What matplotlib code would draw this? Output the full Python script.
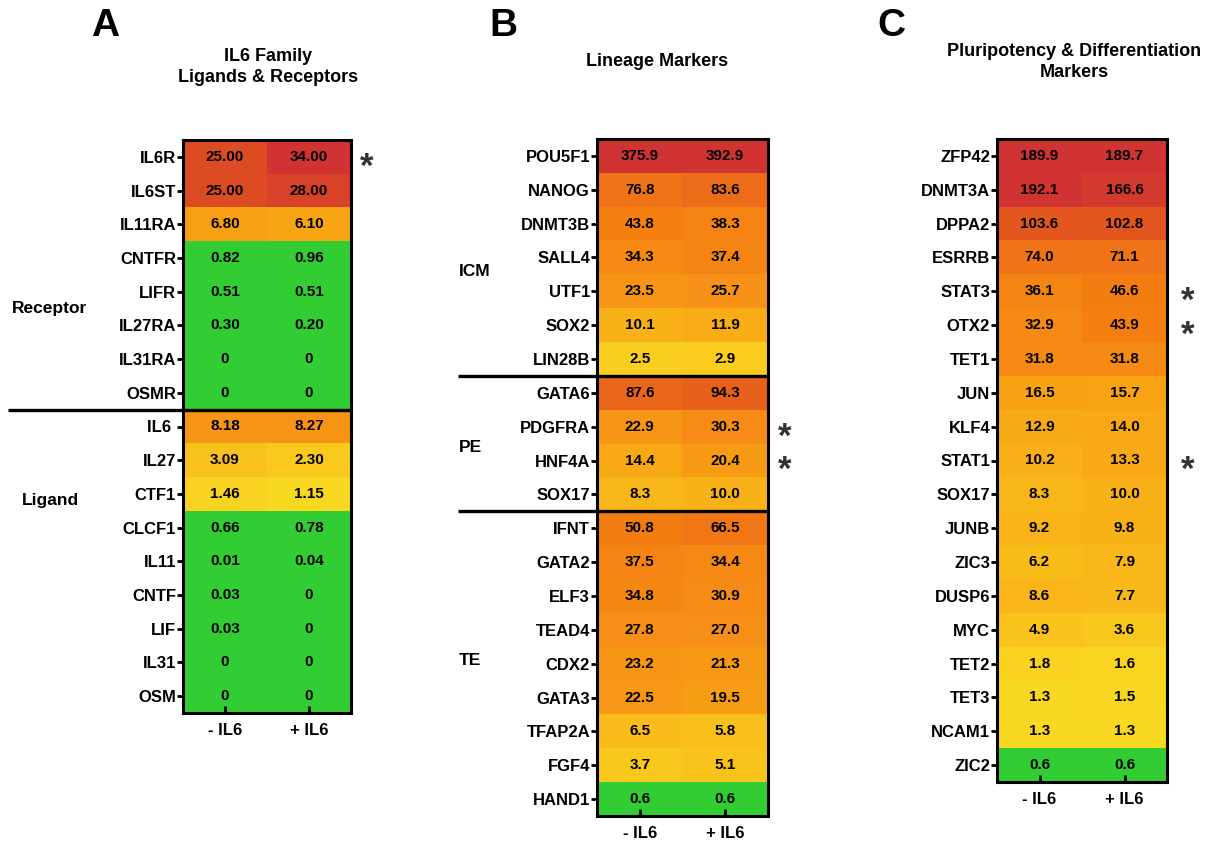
import numpy as np
import matplotlib
matplotlib.use('agg')
import matplotlib.pyplot as plt
from matplotlib.colors import LinearSegmentedColormap, LogNorm, to_rgba
from matplotlib.transforms import blended_transform_factory

plt.rcParams['font.family'] = ['Liberation Sans', 'DejaVu Sans']
plt.rcParams['font.weight'] = 'bold'

conditions = ['- IL6', '+ IL6']

# panel A: IL6 family
genesA = ['IL6R', 'IL6ST', 'IL11RA', 'CNTFR', 'LIFR', 'IL27RA', 'IL31RA', 'OSMR',
          'IL6 ', 'IL27', 'CTF1', 'CLCF1', 'IL11', 'CNTF', 'LIF', 'IL31', 'OSM']
minusA = [25.00, 25.00, 6.80, 0.82, 0.51, 0.30, 0, 0,
          8.18, 3.09, 1.46, 0.66, 0.01, 0.03, 0.03, 0, 0]
plusA = [34.00, 28.00, 6.10, 0.96, 0.51, 0.20, 0, 0,
         8.27, 2.30, 1.15, 0.78, 0.04, 0, 0, 0, 0]
groupsA = [('Receptor', 4.5), ('Ligand', 10.2)]
splitsA = [7.5]
starsA = ['IL6R']

# panel B: lineage markers
genesB = ['POU5F1', 'NANOG', 'DNMT3B', 'SALL4', 'UTF1', 'SOX2', 'LIN28B',
          'GATA6', 'PDGFRA', 'HNF4A', 'SOX17',
          'IFNT', 'GATA2', 'ELF3', 'TEAD4', 'CDX2', 'GATA3', 'TFAP2A', 'FGF4', 'HAND1']
minusB = [375.9, 76.8, 43.8, 34.3, 23.5, 10.1, 2.5,
          87.6, 22.9, 14.4, 8.3,
          50.8, 37.5, 34.8, 27.8, 23.2, 22.5, 6.5, 3.7, 0.6]
plusB = [392.9, 83.6, 38.3, 37.4, 25.7, 11.9, 2.9,
         94.3, 30.3, 20.4, 10.0,
         66.5, 34.4, 30.9, 27.0, 21.3, 19.5, 5.8, 5.1, 0.6]
groupsB = [('ICM', 3.4), ('PE', 8.6), ('TE', 14.9)]
splitsB = [6.5, 10.5]
starsB = ['PDGFRA', 'HNF4A']

# panel C: pluripotency & differentiation
genesC = ['ZFP42', 'DNMT3A', 'DPPA2', 'ESRRB', 'STAT3', 'OTX2', 'TET1', 'JUN', 'KLF4',
          'STAT1', 'SOX17', 'JUNB', 'ZIC3', 'DUSP6', 'MYC', 'TET2', 'TET3', 'NCAM1', 'ZIC2']
minusC = [189.9, 192.1, 103.6, 74.0, 36.1, 32.9, 31.8, 16.5, 12.9,
          10.2, 8.3, 9.2, 6.2, 8.6, 4.9, 1.8, 1.3, 1.3, 0.6]
plusC = [189.7, 166.6, 102.8, 71.1, 46.6, 43.9, 31.8, 15.7, 14.0,
         13.3, 10.0, 9.8, 7.9, 7.7, 3.6, 1.6, 1.5, 1.3, 0.6]
starsC = ['STAT3', 'OTX2', 'STAT1']

cmap = LinearSegmentedColormap.from_list('expr', [
    (0.0, '#fadc22'), (0.3, '#f9c41c'), (0.45, '#f9b018'), (0.55, '#f8a013'),
    (0.62, '#f79018'), (0.72, '#f57f10'), (0.82, '#f07318'), (0.9, '#e04f20'),
    (1.0, '#d03332')])
low_color = '#32cd32'

W, H = 1210, 841
fig = plt.figure(figsize=(W / 100, H / 100), dpi=100)


def px_axes(l, t, r, b):
    return fig.add_axes([l / W, 1 - b / H, (r - l) / W, (b - t) / H])


def heat(ax, genes, minus, plus, vmax, fmt):
    vals = np.array([minus, plus]).T
    norm = LogNorm(vmin=1, vmax=vmax, clip=True)
    rgb = np.zeros(vals.shape + (4,))
    for i in range(vals.shape[0]):
        for j in range(2):
            v = vals[i, j]
            rgb[i, j] = cmap(norm(v)) if v >= 1 else to_rgba(low_color)
            txt = '0' if v == 0 else fmt.format(v)
            ax.text(j, i, txt, ha='center', va='center', fontsize=11, fontweight='bold')
    ax.imshow(rgb, aspect='auto', interpolation='nearest',
              extent=(-0.5, 1.5, len(genes) - 0.5, -0.5))
    ax.set_xticks([0, 1])
    ax.set_xticklabels(conditions, fontsize=12, fontweight='bold')
    ax.set_yticks(range(len(genes)))
    ax.set_yticklabels(genes, fontsize=12, fontweight='bold')
    ax.tick_params(axis='x', direction='in', length=5, width=2, pad=7)
    ax.tick_params(axis='y', direction='out', length=4, width=2, pad=1)
    for s in ax.spines.values():
        s.set_linewidth(2.2)


def extras(ax, genes, groups, splits, stars, gx, line_x0, star_x):
    tr = blended_transform_factory(fig.transFigure, ax.transData)
    x1 = ax.get_position().x1
    for name, y in groups:
        ax.text(gx / W, y, name, transform=tr, ha='left', va='center', fontsize=12.5,
                fontweight='bold')
    for y in splits:
        ax.plot([line_x0 / W, x1], [y, y], transform=tr, color='black', lw=2.4,
                clip_on=False, solid_capstyle='butt')
    for g in stars:
        ax.text(star_x / W, genes.index(g) + 0.3, '*', transform=tr, ha='center',
                va='center', fontsize=25, color='#333333')


axA = px_axes(183, 140, 351, 713)
heat(axA, genesA, minusA, plusA, 34.0, '{:.2f}')
extras(axA, genesA, groupsA[:1], splitsA, starsA, 12, 8, 367)
extras(axA, genesA, groupsA[1:], [], [], 22, 0, 0)

axB = px_axes(597, 139, 768, 816)
heat(axB, genesB, minusB, plusB, 200.0, '{:.1f}')
extras(axB, genesB, groupsB, splitsB, starsB, 459, 458, 785)

axC = px_axes(997, 139, 1167, 782)
heat(axC, genesC, minusC, plusC, 192.1, '{:.1f}')
extras(axC, genesC, [], [], starsC, 0, 0, 1188)

# panel letters and titles
for letter, x in [('A', 105), ('B', 503), ('C', 891)]:
    fig.text(x / W, 1 - 26 / H, letter, ha='center', va='center', fontsize=28,
             fontweight='bold')
fig.text(268 / W, 1 - 67 / H, 'IL6 Family\nLigands & Receptors', ha='center',
         va='center', fontsize=13, fontweight='bold', linespacing=1.3)
fig.text(657 / W, 1 - 62 / H, 'Lineage Markers', ha='center', va='center',
         fontsize=13, fontweight='bold')
fig.text(1074 / W, 1 - 62 / H, 'Pluripotency & Differentiation\nMarkers', ha='center',
         va='center', fontsize=13, fontweight='bold', linespacing=1.3)

fig.savefig('out.png', dpi=100)
